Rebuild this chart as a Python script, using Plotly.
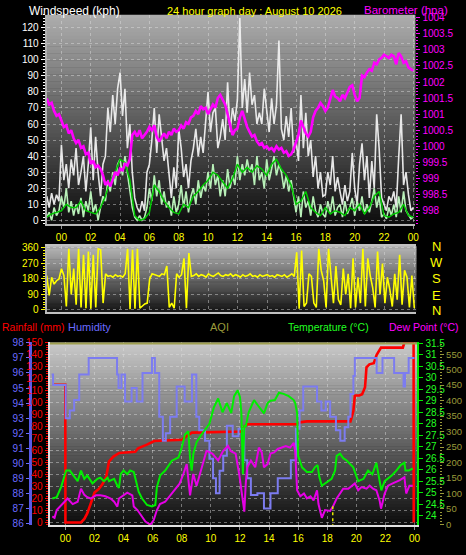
import plotly.graph_objects as go

# ---------------- DATA ----------------
hour_vals = [0, 2, 4, 6, 8, 10, 12, 14, 16, 18, 20, 22, 24]
hour_text = ["00", "02", "04", "06", "08", "10", "12", "14", "16", "18", "20", "22", "00"]

# 10-minute samples from 23:00 (prev day, -1) to 24:00
t10 = [-1 + i / 6 for i in range(151)]
t20 = [-1 + i / 3 for i in range(76)]

gust = [
    15, 8, 17, 10, 16, 12,
    47, 25, 35, 20, 38, 28,
    45, 22, 30, 40, 18, 35,
    58, 25, 52, 30, 15, 35,
    40, 70, 55, 78, 60, 82,
    92, 65, 82, 45, 60, 30,
    14, 8, 5, 12, 6, 30,
    35, 50, 70, 42, 66, 50,
    37, 45, 27, 14, 33, 20,
    57, 45, 27, 35, 20, 37,
    45, 57, 40, 52, 42, 60,
    80, 55, 67, 70, 45, 52,
    63, 50, 86, 55, 70, 62,
    75, 126, 70, 88, 67, 92,
    72, 78, 60, 67, 60, 82,
    70, 55, 76, 60, 72, 112,
    57, 50, 65, 52, 70, 42,
    50, 37, 78, 45, 67, 40,
    50, 27, 40, 20, 30, 15,
    16, 30, 22, 40, 18, 27,
    18, 10, 22, 12, 18, 42,
    20, 10, 35, 48, 25, 40,
    14, 37, 20, 66, 45, 14,
    10, 6, 15, 12, 18, 8,
    39, 66, 22, 30, 16, 6,
    8]

wind = [
    2, 5, 0, 8, 3, 6,
    15, 8, 20, 5, 12, 3,
    10, 4, 14, 2, 12, 6,
    18, 5, 10, 0, 8, 15,
    12, 25, 18, 30, 22, 35,
    38, 28, 40, 30, 18, 8,
    2, 0, 3, 0, 2, 8,
    20, 12, 28, 15, 25, 10,
    18, 8, 12, 3, 15, 5,
    10, 22, 8, 18, 5, 15,
    20, 10, 25, 14, 22, 18,
    30, 20, 35, 22, 28, 15,
    25, 15, 32, 20, 28, 22,
    40, 25, 35, 28, 38, 30,
    35, 22, 40, 25, 30, 20,
    38, 25, 32, 40, 28, 35,
    30, 20, 28, 18, 25, 15,
    5, 15, 2, 18, 8, 12,
    3, 15, 6, 2, 10, 4,
    2, 12, 5, 15, 3, 8,
    10, 2, 12, 4, 8, 14,
    3, 12, 6, 15, 4, 10,
    5, 12, 20, 8, 15, 2,
    4, 1, 8, 3, 10, 2,
    15, 5, 18, 6, 3, 1,
    2]

wind_avg = [
    2, 4, 5,
    6, 10, 8,
    8, 12, 6,
    5, 4, 8,
    15, 25, 30,
    38, 36, 25,
    3, 0, 1,
    5, 22, 18,
    12, 8, 5,
    4, 10, 8,
    15, 18, 22,
    25, 30, 28,
    24, 20, 26,
    35, 30, 33,
    30, 34, 32,
    28, 35, 38,
    32, 28, 22,
    10, 12, 18,
    8, 5, 3,
    8, 4, 6,
    5, 3, 8,
    6, 10, 4,
    8, 15, 18,
    3, 2, 4,
    5, 10, 3,
    2]

baro = [
    1001.49, 1001.3, 1001.35, 1001.1, 1000.95, 1001.0,
    1000.8, 1000.6, 1000.65, 1000.4, 1000.5, 1000.25,
    1000.1, 1000.2, 999.95, 1000.0, 999.75, 999.8,
    999.45, 999.55, 999.35, 999.4, 999.3, 999.1,
    998.8, 998.9, 998.75, 998.95, 999.2, 999.1,
    999.3, 999.25, 999.45, 999.4, 999.6, 1000.35,
    1000.45, 1000.3, 1000.5, 1000.25, 1000.35, 1000.45,
    1000.6, 1000.5, 1000.65, 1000.3, 1000.15, 1000.3,
    1000.4, 1000.25, 1000.45, 1000.35, 1000.55, 1000.45,
    1000.5, 1000.65, 1000.55, 1000.75, 1000.7, 1000.9,
    1000.95, 1001.1, 1001.0, 1001.25, 1001.15, 1001.2,
    1001.0, 1001.15, 1001.3, 1001.2, 1001.5, 1001.6,
    1001.45, 1001.3, 1001.0, 1000.7, 1000.35, 1000.5,
    1000.55, 1000.9, 1001.1, 1000.85, 1000.6, 1000.45,
    1000.3, 1000.35, 1000.15, 1000.05, 1000.1, 999.95,
    1000.0, 999.9, 999.95, 999.85, 1000.0, 999.9,
    999.95, 999.8, 999.85, 999.7, 999.75, 999.9,
    1000.1, 1000.35, 1000.8, 1000.6, 1000.4, 1000.3,
    1000.45, 1000.9, 1001.1, 1001.2, 1001.35, 1001.25,
    1001.1, 1001.2, 1001.45, 1001.75, 1001.55, 1001.5,
    1001.4, 1001.6, 1001.5, 1001.7, 1001.85, 1001.9,
    1001.6, 1001.4, 1001.5, 1002.2, 1002.15, 1002.3,
    1002.4, 1002.35, 1002.6, 1002.55, 1002.7, 1002.75,
    1002.85, 1002.8, 1002.75, 1002.85, 1002.8, 1002.55,
    1002.9, 1002.8, 1002.6, 1002.65, 1002.45, 1002.4,
    1002.35]

wind_dir = [
    200, 85, 190, 150, 170, 180,
    240, 200, 20, 355, 90, 240,
    30, 355, 15, 320, 10, 340,
    8, 320, 15, 355, 350, 40,
    210, 195, 200, 190, 205, 195,
    200, 190, 210, 355, 5, 350,
    8, 355, 10, 25, 35, 40,
    180, 210, 205, 200, 195, 210,
    205, 255, 15, 40, 10, 210,
    190, 205, 300, 10, 330, 195,
    200, 210, 195, 205, 200, 190,
    210, 200, 195, 205, 215, 200,
    195, 205, 200, 210, 195, 205,
    200, 190, 205, 195, 200, 210,
    195, 200, 190, 205, 195, 200,
    205, 195, 200, 190, 205, 200,
    195, 205, 190, 200, 210, 195,
    335, 8, 345, 20, 40, 210,
    195, 40, 15, 355, 230, 170,
    15, 355, 210, 40, 255, 60,
    30, 240, 90, 210, 10, 300,
    15, 190, 40, 355, 20, 300,
    200, 130, 15, 340, 90, 270,
    40, 190, 120, 20, 210, 60,
    320, 30, 230, 190, 15, 200,
    10]

rain_t = [-0.9, -0.01, 0.0, 1.07, 1.3, 1.5, 1.75, 2.0, 2.3, 2.55,
          2.8, 3.0, 3.3, 3.7, 4.8, 5.0, 5.6, 6.1, 8.0, 8.2,
          8.7, 12.1, 12.3, 12.5, 15.9, 16.1, 16.6, 19.6, 19.8, 19.9,
          20.2, 20.4, 20.6, 20.7, 20.9, 21.2, 21.4, 21.7, 23.2, 23.3,
          23.94, 23.95]
rain_v = [115, 115, 0, 0, 3, 7.6, 16, 25, 28, 32,
          38, 51, 55, 58, 59, 62, 65, 68, 69, 71,
          75, 76, 80, 82, 82, 83.6, 84.4, 84.4, 93, 106,
          106, 107, 113, 129.5, 132, 133, 140, 146, 146, 150,
          150, 0]

hum_t = [-0.95, -0.85, 0.02, 0.3, 0.6, 0.95, 1.6, 3.55, 3.65, 3.85,
         4.1, 4.55, 4.9, 5.3, 5.95, 6.15, 6.45, 6.7, 6.9, 7.2,
         7.65, 8.2, 8.7, 9.0, 9.2, 9.6, 9.9, 10.15, 10.35, 10.6,
         10.85, 11.1, 11.5, 11.9, 12.3, 12.5, 12.75, 13.2, 13.65, 14.1,
         14.6, 15.5, 15.85, 16.1, 16.35, 17.3, 17.6, 17.9, 18.2, 18.6,
         18.9, 19.2, 19.45, 19.6, 19.8, 19.9, 21.4, 21.8, 22.6, 23.25,
         23.35, 23.6, 24.0]
hum_v = [95.9, 95.2, 93.0, 93.5, 94.2, 95.9, 97.0, 95.9, 95.0, 95.9,
         94.1, 95.0, 94.1, 96.0, 97.0, 96.0, 93.1, 91.5, 92.0, 93.1,
         95.1, 94.1, 95.9, 93.1, 92.2, 91.5, 90.3, 89.0, 88.0, 89.5,
         90.5, 92.5, 91.8, 92.3, 90.2, 89.0, 87.9, 88.0, 87.0, 88.0,
         89.0, 90.2, 92.3, 93.5, 95.1, 94.1, 93.5, 94.1, 93.1, 92.2,
         91.5, 92.4, 93.1, 94.6, 95.8, 97.0, 96.0, 97.0, 96.0, 95.1,
         96.0, 97.0, 97.0]

temp_t = [-0.9, -0.6, -0.3, 0.05, 0.3, 0.55, 0.84, 1.07, 1.3, 1.5,
          1.86, 2.2, 2.4, 2.65, 2.9, 3.0, 3.35, 3.57, 3.68, 3.8,
          4.0, 4.25, 4.45, 4.7, 5.04, 5.27, 5.61, 5.95, 6.18, 6.29,
          6.52, 6.86, 7.32, 7.77, 8.0, 8.22, 8.45, 8.57, 8.68, 8.8,
          9.02, 9.36, 9.7, 9.9, 10.2, 10.5, 10.8, 11.1, 11.4, 11.6,
          11.84, 12.0, 12.1, 12.2, 12.3, 12.4, 12.6, 12.97, 13.3, 13.65,
          13.9, 14.1, 14.4, 14.68, 15.0, 15.35, 15.7, 15.8, 15.93, 16.0,
          16.27, 16.6, 16.95, 17.15, 17.34, 17.45, 17.63, 17.85, 18.08, 18.3,
          18.54, 18.65, 18.88, 19.1, 19.34, 19.56, 19.79, 20.13, 20.5, 20.81,
          21.1, 21.38, 21.5, 21.72, 21.95, 22.18, 22.45, 22.75, 23.05, 23.31,
          23.38, 23.6, 23.88]
temp_v = [24.74, 24.8, 25.24, 25.96, 25.96, 25.75, 25.5, 25.96, 25.6, 25.75,
          25.4, 25.6, 25.65, 25.5, 25.65, 25.5, 25.6, 25.3, 25.2, 25.8,
          25.96, 25.8, 25.96, 25.9, 25.03, 24.74, 24.46, 24.4, 24.46, 25.24,
          25.75, 25.96, 26.39, 26.53, 26.96, 27.53, 27.67, 26.5, 25.96, 26.7,
          27.2, 27.53, 27.8, 28.0, 28.7, 29.1, 28.5, 28.9, 28.46, 29.2,
          29.46, 29.17, 28.46, 25.8, 27.9, 27.89, 28.5, 29.03, 28.74, 28.45,
          28.9, 29.0, 29.03, 29.35, 29.3, 29.2, 29.03, 28.9, 28.46, 26.6,
          26.1, 25.9, 25.9, 26.1, 26.2, 25.7, 25.3, 25.4, 25.5, 25.6,
          25.96, 26.6, 26.7, 26.5, 26.4, 26.25, 26.1, 25.5, 25.6, 25.96,
          25.8, 26.3, 25.8, 25.1, 25.5, 25.6, 25.75, 25.96, 26.2, 26.3,
          25.96, 25.96, 26.05]

dew_t = [-0.9, -0.75, -0.6, -0.3, -0.07, 0.15, 0.5, 0.84, 1.07, 1.3,
         1.5, 1.75, 2.09, 2.4, 2.75, 3.11, 3.35, 3.57, 3.68, 4.0,
         4.25, 4.6, 4.7, 4.95, 5.16, 5.5, 5.84, 6.07, 6.29, 6.5,
         6.86, 7.2, 7.54, 7.85, 8.11, 8.34, 8.57, 8.79, 9.02, 9.36,
         9.7, 10.1, 10.5, 10.85, 11.18, 11.38, 11.7, 11.95, 12.15, 12.3,
         12.4, 12.5, 12.75, 13.05, 13.3, 13.5, 13.65, 13.9, 14.1, 14.35,
         14.6, 14.8, 15.15, 15.45, 15.7, 15.8, 15.93, 16.15, 16.4, 16.6,
         16.85, 17.06, 17.3, 17.4, 17.63, 17.85, 18.2, 18.4, 18.65, 18.88,
         19.1, 19.45, 19.68, 19.9, 20.13, 20.36, 20.7, 20.92, 21.15, 21.38,
         21.6, 21.7, 21.95, 22.18, 22.5, 22.75, 23.0, 23.31, 23.43, 23.65,
         23.88]
dew_v = [23.96, 23.9, 24.24, 24.45, 24.6, 24.74, 24.5, 24.6, 25.17, 24.9,
         24.8, 24.74, 24.88, 24.88, 24.84, 24.74, 24.6, 24.39, 24.74, 24.88,
         25.0, 24.88, 24.39, 24.24, 24.03, 23.74, 23.6, 23.8, 24.24, 24.5,
         24.6, 24.88, 25.17, 25.39, 25.81, 26.24, 24.88, 25.81, 25.3, 26.1,
         26.82, 26.7, 26.4, 26.82, 27.03, 26.8, 26.7, 25.8, 24.9, 24.17,
         25.4, 26.1, 26.4, 26.1, 26.96, 26.75, 26.1, 26.24, 26.7, 26.75,
         26.9, 26.96, 27.03, 26.96, 27.17, 26.8, 25.1, 24.84, 24.96, 24.75,
         24.84, 24.66, 25.1, 24.5, 23.9, 24.24, 24.2, 24.4, 24.74, 24.96,
         25.17, 25.17, 25.3, 25.4, 25.1, 25.24, 25.17, 25.3, 25.17, 25.1,
         24.66, 24.3, 24.96, 25.3, 25.4, 25.47, 25.54, 25.67, 24.96, 25.3,
         25.3]

aqi_t = [-1.09, 24.2]
aqi_v = [585, 585]

mark_t = [5.75, 18.38]
mark_v = [23.6, 24.4]

# ---------------- STYLE ----------------
W, H = 466, 555
FONT = "Liberation Sans, Arial, sans-serif"
GRID = "rgba(225,225,225,0.45)"
YEL = "#ffff00"
MAG = "#ff00ff"
RED = "#ff0000"
HUM = "#6b6bff"
GRN = "#00ee00"
OLV = "#9a9a3a"


def px_x(p):
    return p / W


def px_y(p):
    return 1 - p / H


TOP = (47, 419, 10, 223)
DIRB = (47, 420, 245, 312)
BOT = (50, 421, 343, 529)

fig = go.Figure()


def add_gradient(box, c_top, c_bot, n=60):
    x0, x1, y0, y1 = box
    for i in range(n):
        f = i / (n - 1)
        c = [round(a + (b - a) * f) for a, b in zip(c_top, c_bot)]
        ya = y0 + (y1 - y0) * i / n
        yb = y0 + (y1 - y0) * (i + 1) / n + 0.6
        fig.add_shape(type="rect", xref="paper", yref="paper",
                      x0=px_x(x0), x1=px_x(x1), y0=px_y(min(yb, y1)), y1=px_y(ya),
                      fillcolor=f"rgb({c[0]},{c[1]},{c[2]})", line_width=0, layer="below")


add_gradient(TOP, (172, 172, 172), (14, 14, 14))
add_gradient(DIRB, (182, 182, 182), (22, 22, 22))
add_gradient(BOT, (200, 200, 200), (14, 14, 14))

# ---------------- TRACES ----------------
fig.add_trace(go.Scatter(x=t10, y=gust, xaxis="x", yaxis="y", mode="lines",
                         line=dict(color="rgba(240,240,240,0.95)", width=1.6)))
fig.add_trace(go.Scatter(x=t10, y=wind, xaxis="x", yaxis="y", mode="lines",
                         line=dict(color="#b8f0b8", width=1.6)))
fig.add_trace(go.Scatter(x=t20, y=wind_avg, xaxis="x", yaxis="y", mode="lines",
                         line=dict(color="#00c800", width=1.5)))
fig.add_trace(go.Scatter(x=t10, y=baro, xaxis="x", yaxis="y2", mode="lines",
                         line=dict(color=MAG, width=2.6)))

fig.add_trace(go.Scatter(x=t10, y=wind_dir, xaxis="x2", yaxis="y3", mode="lines",
                         line=dict(color=YEL, width=1.6)))

fig.add_trace(go.Scatter(x=aqi_t, y=aqi_v, xaxis="x3", yaxis="y7", mode="lines",
                         line=dict(color="#a0a050", width=2.5)))
fig.add_trace(go.Scatter(x=hum_t, y=hum_v, xaxis="x3", yaxis="y5", mode="lines",
                         line=dict(color="#7c7cf0", width=2, shape="hv")))
fig.add_trace(go.Scatter(x=dew_t, y=dew_v, xaxis="x3", yaxis="y6", mode="lines",
                         line=dict(color="#e600e6", width=2)))
fig.add_trace(go.Scatter(x=temp_t, y=temp_v, xaxis="x3", yaxis="y6", mode="lines",
                         line=dict(color=GRN, width=2)))
mx, my = [], []
for t, v in zip(mark_t, mark_v):
    mx += [t, t, None]
    my += [v, 23.57, None]
fig.add_trace(go.Scatter(x=mx, y=my, xaxis="x3", yaxis="y6", mode="lines",
                         line=dict(color="#e8e800", width=1.5, dash="dot")))
fig.add_trace(go.Scatter(x=rain_t, y=rain_v, xaxis="x3", yaxis="y4", mode="lines",
                         line=dict(color=RED, width=2.6)))

# ---------------- LAYOUT ----------------
tf = dict(family=FONT, size=10)


def ax_common(**kw):
    d = dict(zeroline=False, tickfont=dict(tf), fixedrange=True)
    d.update(kw)
    return d


fig.update_layout(
    width=W, height=H, margin=dict(l=0, r=0, t=0, b=0),
    paper_bgcolor="black", plot_bgcolor="rgba(0,0,0,0)",
    showlegend=False, font=dict(family=FONT, size=10, color="white"),
    xaxis=ax_common(domain=[px_x(TOP[0]), px_x(TOP[1])], range=[-1.01, 24.14], anchor="y",
                    tickmode="array", tickvals=hour_vals, ticktext=hour_text,
                    tickfont=dict(family=FONT, size=10, color=YEL),
                    ticks="outside", ticklen=3, tickcolor="#909090",
                    showgrid=True, gridcolor=GRID, griddash="dot",
                    showline=True, linecolor="#b8b8b8", linewidth=2),
    yaxis=ax_common(domain=[px_y(TOP[3]), px_y(TOP[2])], range=[-2.5, 128], anchor="x",
                    tick0=0, dtick=10, tickfont=dict(family=FONT, size=10, color="white"),
                    ticks="outside", ticklen=4, tickcolor="white",
                    minor=dict(ticks="outside", ticklen=2, tickcolor="white", dtick=2),
                    showgrid=True, gridcolor=GRID, griddash="dot",
                    showline=True, linecolor="#b0b0b0", linewidth=2),
    yaxis2=ax_common(overlaying="y", side="right", anchor="x", range=[997.57, 1004.09],
                     tick0=998, dtick=0.5, tickformat="~g",
                     tickfont=dict(family=FONT, size=10, color=MAG),
                     ticks="outside", ticklen=4, tickcolor=MAG,
                     minor=dict(ticks="outside", ticklen=2, tickcolor=MAG, dtick=0.1),
                     showgrid=False, showline=False),
    xaxis2=ax_common(domain=[px_x(DIRB[0]), px_x(DIRB[1])], range=[-1.01, 24.14], anchor="y3",
                     tickmode="array", tickvals=hour_vals, showticklabels=False, ticks="",
                     showgrid=True, gridcolor=GRID, griddash="dot",
                     showline=True, mirror=True, linecolor="#c0c0c0", linewidth=2),
    yaxis3=ax_common(domain=[px_y(DIRB[3]), px_y(DIRB[2])], range=[-11.4, 371.4], anchor="x2",
                     tick0=0, dtick=90, tickfont=dict(family=FONT, size=10, color=YEL),
                     ticks="outside", ticklen=4, tickcolor=YEL,
                     minor=dict(ticks="outside", ticklen=2, tickcolor=YEL, dtick=15),
                     showgrid=True, gridcolor=GRID, griddash="dot",
                     showline=True, linecolor="#b0b0b0", linewidth=2),
    xaxis3=ax_common(domain=[px_x(BOT[0]), px_x(BOT[1])], range=[-1.09, 24.2], anchor="y4",
                     tickmode="array", tickvals=hour_vals, ticktext=hour_text,
                     tickfont=dict(family=FONT, size=10, color=YEL),
                     ticks="outside", ticklen=3, tickcolor="#909090",
                     showgrid=True, gridcolor=GRID, griddash="dot",
                     showline=True, linecolor="#e0e0e0", linewidth=2),
    yaxis4=ax_common(domain=[px_y(BOT[3]), px_y(BOT[2])], range=[-2.46, 150.3], anchor="x3",
                     side="left", tick0=0, dtick=10,
                     tickfont=dict(family=FONT, size=10, color=RED),
                     ticks="outside", ticklen=3, tickcolor=RED,
                     minor=dict(ticks="outside", ticklen=2, tickcolor=RED, dtick=2),
                     showgrid=True, gridcolor=GRID, griddash="dot",
                     showline=True, linecolor="#e0e0e0", linewidth=2),
    yaxis5=ax_common(overlaying="y4", anchor="free", position=px_x(30), side="left",
                     range=[85.87, 98.03], tick0=86, dtick=1,
                     tickfont=dict(family=FONT, size=10, color=HUM),
                     ticks="outside", ticklen=3, tickcolor=HUM,
                     showgrid=False, showline=True, linecolor="#5a5ae6", linewidth=3),
    yaxis6=ax_common(overlaying="y4", anchor="x3", side="right", range=[23.57, 31.54],
                     tick0=24, dtick=0.5, tickformat="~g",
                     tickfont=dict(family=FONT, size=10, color="#22ff22"),
                     ticks="outside", ticklen=4, tickcolor=GRN,
                     showgrid=False, showline=True, linecolor=GRN, linewidth=2),
    yaxis7=ax_common(overlaying="y4", anchor="free", position=px_x(443), side="right",
                     range=[-3.2, 588], tick0=0, dtick=50,
                     tickfont=dict(family=FONT, size=9.5, color=OLV),
                     ticks="outside", ticklen=4, tickcolor=OLV,
                     minor=dict(ticks="outside", ticklen=2, tickcolor=OLV, dtick=10),
                     showgrid=False, showline=False),
)

# ---------------- TEXT ----------------
def note(text, x, y, color, size=11, xanchor="center"):
    fig.add_annotation(text=text, x=px_x(x), y=px_y(y), xref="paper", yref="paper",
                       showarrow=False, xanchor=xanchor, yanchor="middle",
                       font=dict(family=FONT, size=size, color=color))


note("Windspeed (kph)", 75, 6, "white", 12)
note("24 hour graph day : August 10 2026", 257, 6, YEL, 11)
note("Barometer (hpa)", 410, 5, MAG, 11.5)
note("Rainfall (mm)", 0, 327, RED, 10.5, "left")
note("Humidity", 67, 327, HUM, 11, "left")
note("AQI", 221, 327, OLV, 11)
note("Temperature (°C)", 374, 327, "#22ff22", 10.5, "right")
note("Dew Point (°C)", 465, 327, MAG, 10.5, "right")
for letter, yy in zip(["N", "W", "S", "E", "N"], [245, 262, 278, 295, 311]):
    note(letter, 440, yy, YEL, 13)

fig.write_html("out.html", config={"displayModeBar": False, "staticPlot": True})

# remove the default page margin so the figure sits at the window's top-left corner
with open("out.html", "r", encoding="utf-8") as fh:
    html = fh.read()
html = html.replace("<head>", "<head><style>html,body{margin:0;padding:0;background:#000;overflow:hidden;}</style>", 1)
with open("out.html", "w", encoding="utf-8") as fh:
    fh.write(html)
